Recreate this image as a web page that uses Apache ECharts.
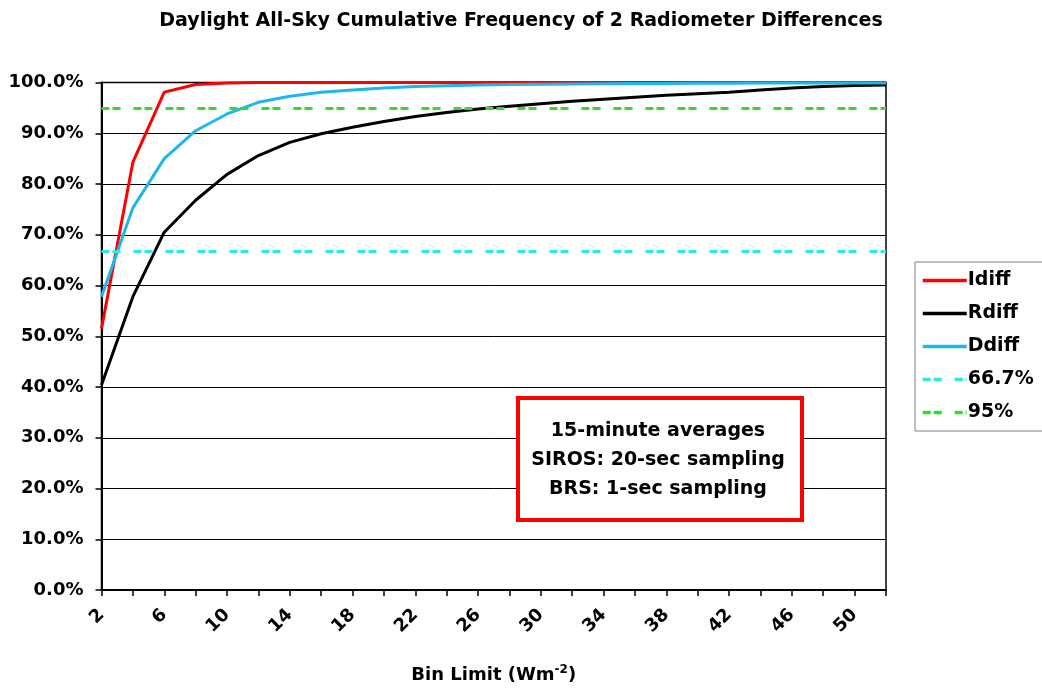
<!DOCTYPE html>
<html>
<head>
<meta charset="utf-8">
<script src="https://cdn.jsdelivr.net/npm/echarts@6/dist/echarts.min.js"></script>
<style>
html,body{margin:0;padding:0;background:#fff;}
#chart{width:1042px;height:690px;}
</style>
</head>
<body>
<div id="chart"></div>
<script>
// Bin limits (Wm-2)
var categories = ['2','4','6','8','10','12','14','16','18','20','22','24','26','28','30','32','34','36','38','40','42','44','46','48','50','52'];
// Cumulative frequency (%)
var idiff = [51.5, 84.3, 98.1, 99.6, 99.9, 100, 100, 100, 100, 100, 100, 100, 100, 100, 100, 100, 100, 100, 100, 100, 100, 100, 100, 100, 100, 100];
var rdiff = [40.4, 57.8, 70.5, 76.8, 81.9, 85.6, 88.2, 89.9, 91.2, 92.3, 93.3, 94.1, 94.8, 95.3, 95.8, 96.3, 96.7, 97.1, 97.5, 97.8, 98.1, 98.5, 98.9, 99.2, 99.4, 99.5];
var ddiff = [57.8, 75.3, 85.0, 90.5, 93.8, 96.1, 97.3, 98.1, 98.5, 98.9, 99.2, 99.35, 99.5, 99.6, 99.65, 99.7, 99.75, 99.8, 99.8, 99.85, 99.85, 99.9, 99.9, 99.9, 99.9, 99.9];
// Reference levels (%)
var level667 = 66.7;
var level95 = 95;
var noteLines = ['15-minute averages', 'SIROS: 20-sec sampling', 'BRS: 1-sec sampling'];

var FONT = '"DejaVu Sans", Arial, sans-serif';
var chart = echarts.init(document.getElementById('chart'), null, {renderer: 'canvas'});

function refSeries(name, level, color) {
  return {
    name: name, type: 'line', data: [], symbol: 'none',
    lineStyle: {color: color, width: 3, type: [8, 3, 8, 13]},
    itemStyle: {color: color},
    markLine: {
      silent: true, symbol: 'none', label: {show: false},
      lineStyle: {color: color, width: 3, type: [8, 3, 8, 13]},
      data: [{yAxis: level}]
    }
  };
}

var option = {
  animation: false,
  backgroundColor: '#fff',
  title: {
    text: 'Daylight All-Sky Cumulative Frequency of 2 Radiometer Differences',
    left: 'center', top: 7,
    textStyle: {fontFamily: FONT, fontWeight: 'bold', fontSize: 19, color: '#000'}
  },
  legend: {
    orient: 'vertical', left: 915, top: 262,
    itemWidth: 44, itemHeight: 14, itemGap: 14,
    padding: [9, 40, 9, 6],
    borderColor: '#808080', borderWidth: 1, backgroundColor: '#fff',
    itemStyle: {opacity: 0},
    lineStyle: {width: 3.5},
    textStyle: {fontFamily: FONT, fontWeight: 'bold', fontSize: 19, color: '#000', padding: [0, 0, 0, -4]},
    data: ['Idiff', 'Rdiff', 'Ddiff', '66.7%', '95%']
  },
  grid: {
    left: 101.5, right: 156, top: 82.5, bottom: 100,
    show: true, borderColor: '#000', borderWidth: 1.5, backgroundColor: '#fff'
  },
  xAxis: {
    type: 'category', data: categories, boundaryGap: false,
    name: 'Bin Limit (Wm{sup|-2})', nameLocation: 'middle', nameGap: 74,
    nameTextStyle: {
      fontFamily: FONT, fontWeight: 'bold', fontSize: 18, color: '#000',
      rich: {sup: {fontFamily: FONT, fontWeight: 'bold', fontSize: 12, color: '#000', verticalAlign: 'top', padding: [0, 0, 10, 0]}}
    },
    axisLine: {lineStyle: {color: '#000', width: 2}},
    axisTick: {show: true, interval: 0, length: 6, lineStyle: {color: '#000', width: 1.5}},
    axisLabel: {
      interval: 1, rotate: 45, margin: 22,
      fontFamily: FONT, fontWeight: 'bold', fontSize: 18, color: '#000'
    },
    splitLine: {show: false}
  },
  yAxis: {
    type: 'value', min: 0, max: 100, interval: 10,
    axisLine: {show: true, lineStyle: {color: '#000', width: 2}},
    axisTick: {show: true, length: 6, lineStyle: {color: '#000', width: 1.5}},
    axisLabel: {
      margin: 18, fontFamily: FONT, fontWeight: 'bold', fontSize: 18, color: '#000',
      formatter: function (v) { return v.toFixed(1) + '%'; }
    },
    splitLine: {show: true, lineStyle: {color: '#000', width: 1}}
  },
  series: [
    {name: 'Idiff', type: 'line', data: idiff, symbol: 'none',
     lineStyle: {color: '#ff0000', width: 3}, itemStyle: {color: '#ff0000'}},
    {name: 'Rdiff', type: 'line', data: rdiff, symbol: 'none',
     lineStyle: {color: '#000000', width: 3}, itemStyle: {color: '#000000'}},
    {name: 'Ddiff', type: 'line', data: ddiff, symbol: 'none',
     lineStyle: {color: '#1fb6ea', width: 3}, itemStyle: {color: '#1fb6ea'}},
    refSeries('66.7%', level667, '#33e6e6'),
    refSeries('95%', level95, '#2ee02e')
  ],
  graphic: [
    {
      type: 'rect', left: 516, top: 396, z: 100,
      shape: {width: 284, height: 122},
      style: {fill: '#fff', stroke: '#ff0000', lineWidth: 4}
    },
    {
      type: 'text', z: 101, x: 658, y: 417,
      style: {
        text: noteLines.join('\n'), textAlign: 'center', textVerticalAlign: 'top',
        fontFamily: FONT, fontWeight: 'bold', fontSize: 19, lineHeight: 29, fill: '#000'
      }
    }
  ]
};
chart.setOption(option);
</script>
</body>
</html>
